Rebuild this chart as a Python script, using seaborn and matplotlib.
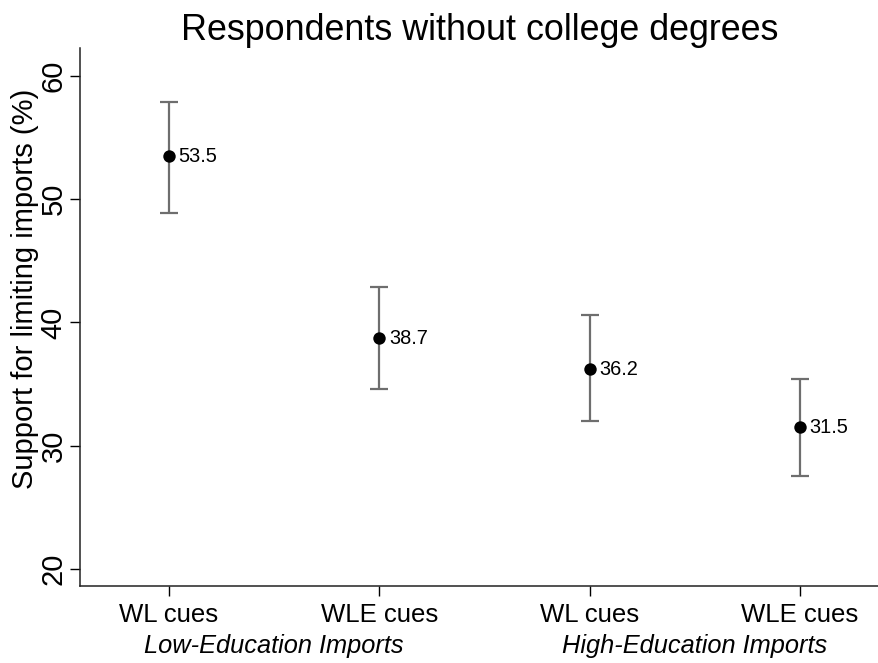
import seaborn as sns
import pandas as pd
import matplotlib.pyplot as plt
from matplotlib import transforms

# values
conditions = ["WL cues", "WLE cues", "WL cues", "WLE cues"]
positions = [1, 2, 3, 4]
support = [53.5, 38.7, 36.2, 31.5]
ci_low = [48.9, 34.6, 32.0, 27.5]
ci_high = [57.9, 42.9, 40.6, 35.4]
groups = ["Low-Education Imports", "High-Education Imports"]
group_members = [[1, 2], [3, 4]]
yticks = [20, 30, 40, 50, 60]

df = pd.DataFrame({"pos": positions, "support": support,
                   "lo": ci_low, "hi": ci_high, "cond": conditions})

sns.set_style("ticks")
plt.rcParams["font.family"] = ["Liberation Sans", "DejaVu Sans"]
for k in ["text.color", "axes.labelcolor", "xtick.color", "ytick.color"]:
    plt.rcParams[k] = "black"

fig = plt.figure(figsize=(8.79, 6.63), dpi=100)
ax = fig.add_axes([0.091, 0.116, 0.909, 0.812])

# confidence intervals
ax.errorbar(df["pos"], df["support"],
            yerr=[df["support"] - df["lo"], df["hi"] - df["support"]],
            fmt="none", ecolor="#6e6e6e", elinewidth=1.6, capsize=6.5, capthick=1.6,
            zorder=2)
sns.scatterplot(data=df, x="pos", y="support", color="black", s=80,
                edgecolor="black", linewidth=0, ax=ax, zorder=3, legend=False)

for p, v in zip(df["pos"], df["support"]):
    ax.annotate(f"{v:.1f}", (p, v), xytext=(7, 0), textcoords="offset points",
                va="center", ha="left", fontsize=14.4)

ax.set_xlim(0.577, 4.376)
ax.set_ylim(18.6, 62.3)
ax.set_yticks(yticks)
ax.set_yticklabels([str(t) for t in yticks], rotation=90, va="center", fontsize=21)
ax.set_xticks(positions)
ax.set_xticklabels(conditions, fontsize=18.5)
ax.tick_params(axis="both", length=7, width=1)
ax.tick_params(axis="y", pad=2)
ax.tick_params(axis="x", pad=5)
ax.set_xlabel("")
ax.set_ylabel("Support for limiting imports (%)", fontsize=21)
ax.yaxis.set_label_coords(-0.0513, 0.552)
ax.set_title("Respondents without college degrees", fontsize=25.8, pad=4)

for s in ["left", "bottom"]:
    ax.spines[s].set_linewidth(1.1)
    ax.spines[s].set_color("#222222")
sns.despine(ax=ax)

trans = transforms.blended_transform_factory(ax.transData, ax.transAxes)
for name, members in zip(groups, group_members):
    ax.text(sum(members) / len(members), -0.1245, name, transform=trans,
            ha="center", va="baseline", fontsize=18.3, style="italic")

fig.savefig("out.png", dpi=100)
